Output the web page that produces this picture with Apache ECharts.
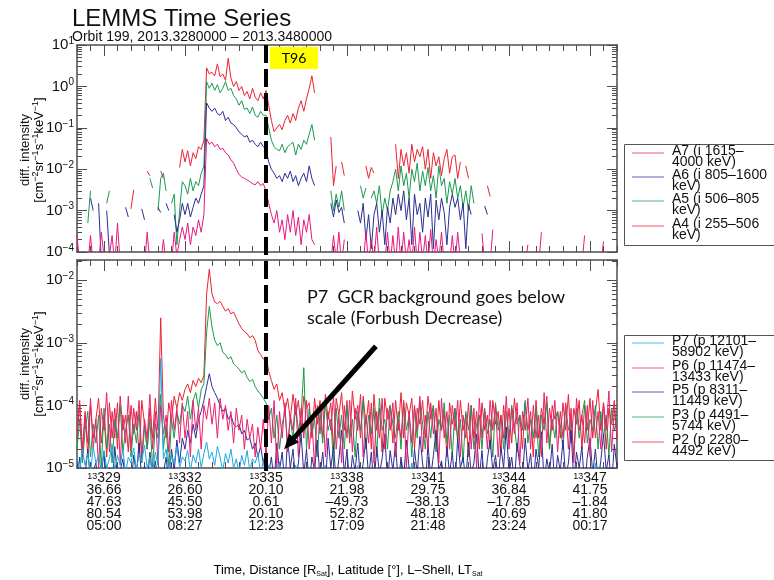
<!DOCTYPE html>
<html><head><meta charset="utf-8">
<script src="https://cdn.jsdelivr.net/npm/echarts@6/dist/echarts.min.js"></script>
<style>html,body{margin:0;padding:0;background:#fff}#c{width:774px;height:580px}</style>
</head><body><div id="c"></div>
<script>
const _ = null;
// sample times (day units of 0.001 yr, 2013.328 .. 2013.348)
const times = [
328,328.1,328.2,328.3,328.4,328.5,328.6,328.7,328.8,328.9,
329,329.1,329.2,329.3,329.4,329.5,329.6,329.7,329.8,329.9,
330,330.1,330.2,330.3,330.4,330.5,330.6,330.7,330.8,330.9,
331,331.1,331.2,331.3,331.4,331.5,331.6,331.7,331.8,331.9,
332,332.1,332.2,332.3,332.4,332.5,332.6,332.7,332.8,332.9,
333,333.1,333.2,333.3,333.4,333.5,333.6,333.7,333.8,333.9,
334,334.1,334.2,334.3,334.4,334.5,334.6,334.7,334.8,334.9,
335,335.1,335.2,335.3,335.4,335.5,335.6,335.7,335.8,335.9,
336,336.1,336.2,336.3,336.4,336.5,336.6,336.7,336.8,336.9,
337,337.1,337.2,337.3,337.4,337.5,337.6,337.7,337.8,337.9,
338,338.1,338.2,338.3,338.4,338.5,338.6,338.7,338.8,338.9,
339,339.1,339.2,339.3,339.4,339.5,339.6,339.7,339.8,339.9,
340,340.1,340.2,340.3,340.4,340.5,340.6,340.7,340.8,340.9,
341,341.1,341.2,341.3,341.4,341.5,341.6,341.7,341.8,341.9,
342,342.1,342.2,342.3,342.4,342.5,342.6,342.7,342.8,342.9,
343,343.1,343.2,343.3,343.4,343.5,343.6,343.7,343.8,343.9,
344,344.1,344.2,344.3,344.4,344.5,344.6,344.7,344.8,344.9,
345,345.1,345.2,345.3,345.4,345.5,345.6,345.7,345.8,345.9,
346,346.1,346.2,346.3,346.4,346.5,346.6,346.7,346.8,346.9,
347,347.1,347.2,347.3,347.4,347.5,347.6,347.7,347.8,347.9,
348];

// ---- top panel (ions) ----
const A4 = [
_,_,_,_,_,_,_,_,_,_,
_,_,_,_,_,_,_,_,_,_,
1.1e-3,3.2e-3,_,_,_,_,9e-3,7e-3,_,_,
_,9e-3,6e-3,_,_,_,_,_,0.011,0.03,
0.015,0.028,0.012,0.025,0.018,0.035,0.03,0.05,2.8,2.0,
2.2,1.8,3.5,1.7,2.0,1.4,4.8,1.6,1.0,1.3,
0.8,1.0,0.6,0.75,0.5,0.9,0.55,0.45,0.7,0.5,
0.8,0.35,0.15,0.08,0.1,0.12,0.09,0.15,0.2,0.13,
0.22,0.15,0.3,0.45,0.25,0.5,0.9,1.8,0.7,_,
_,_,_,_,0.06,4e-3,0.012,_,0.015,7e-3,
_,_,_,_,_,_,_,0.012,6e-3,0.011,
8e-3,_,_,_,_,_,_,_,0.04,6e-3,
0.03,0.012,0.025,8e-3,0.04,0.015,0.03,0.02,0.035,0.01,
0.03,6e-3,0.025,0.012,0.02,7e-3,0.018,0.03,8e-3,0.02,
0.022,6e-3,0.015,_,0.012,6e-3,_,_,_,_,
_,_,4e-3,2.2e-3,_,_,_,_,_,_,
_,_,_,_,_,_,_,_,_,_,
_,_,_,_,_,_,_,_,_,_,
_,_,_,_,_,_,_,_,_,_,
_,_,_,_,_,_,_,_,_,_,
_];
const A5 = [
_,_,_,_,5e-4,3e-3,_,_,_,_,
_,1.5e-3,3e-3,_,_,_,_,_,_,_,
_,_,_,_,_,_,_,6e-3,3.5e-3,_,
1e-3,6e-3,8e-3,3e-3,_,1.5e-3,2.5e-3,1.5e-4,1e-3,5e-3,
4e-3,2.5e-3,6e-3,3e-3,5e-3,4e-3,8e-3,0.012,1.3,0.9,
1.2,0.8,1.1,0.7,0.9,1.3,0.8,0.9,0.6,0.5,
0.35,0.45,0.28,0.3,0.22,0.32,0.2,0.18,0.25,0.2,
0.2,0.1,0.05,0.035,0.03,0.028,0.04,0.025,0.035,0.04,
0.045,0.022,0.04,0.03,0.05,0.04,0.07,0.12,0.05,_,
_,_,_,_,3e-3,1e-3,2.5e-3,1.2e-3,3e-3,1e-3,
_,_,_,_,_,4e-3,2e-3,3.5e-3,_,2e-3,
3e-3,1.5e-3,4e-3,8e-4,2e-3,1e-3,3e-3,5e-3,0.01,3e-3,
0.012,4e-3,8e-3,2e-3,0.01,5e-3,0.014,3e-3,9e-3,4e-3,
0.011,3e-3,7e-3,2e-3,0.012,4e-3,6e-3,1.5e-3,5e-3,2.5e-3,
6e-3,2e-3,4e-3,1.2e-3,3e-3,1e-3,4e-3,1.5e-3,_,_,
_,_,_,_,_,_,_,_,_,_,
_,_,_,_,_,_,_,_,_,_,
_,_,_,_,_,_,_,_,_,_,
_,_,_,_,_,_,_,_,_,_,
_,_,_,_,_,_,_,_,_,_,
_];
const A6 = [
_,_,_,_,_,2e-3,1e-3,_,1.5e-3,6e-5,
_,1e-3,9e-5,_,_,_,_,_,1.2e-3,7e-4,
_,_,_,_,1.1e-3,6e-4,_,_,_,_,
1.2e-3,9e-4,_,1.5e-3,1e-3,_,8e-4,3e-4,6e-4,1.5e-3,
8e-4,1.5e-3,7e-4,1.2e-3,2e-3,1.5e-3,2.5e-3,4e-3,0.4,0.3,
0.25,0.3,0.22,0.2,0.25,0.15,0.18,0.13,0.12,0.1,
0.08,0.07,0.06,0.065,0.045,0.05,0.04,0.035,0.045,0.035,
0.03,0.015,0.01,0.008,0.006,0.007,0.005,0.008,0.006,0.009,
0.005,0.007,0.004,0.006,0.008,0.005,0.012,0.006,0.004,_,
_,_,_,_,1.5e-3,7e-4,1.8e-3,9e-4,1.2e-3,5e-4,
_,_,_,_,1e-3,5e-4,1.5e-3,2e-4,8e-4,1.2e-4,
8e-4,1.5e-3,3e-4,1e-3,1.5e-4,1.2e-3,5e-4,2e-3,8e-4,2.5e-3,
1e-3,3e-3,6e-4,2e-3,1.5e-4,2.5e-3,8e-4,1.5e-3,3e-4,2e-3,
7e-4,2.5e-3,1.2e-4,1.8e-3,6e-4,2e-3,9e-4,1.5e-4,1.2e-3,2.5e-3,
1.2e-3,2e-3,6e-4,1.5e-3,1.2e-4,1.4e-3,8e-4,_,_,_,
_,1.3e-3,8e-4,_,_,_,_,_,_,_,
_,_,_,_,_,_,_,_,_,_,
_,_,_,_,_,_,_,_,_,_,
_,_,_,_,_,_,_,_,_,_,
_,_,_,_,_,_,_,_,_,_,
_];
const A7 = [
2.5e-4,5e-5,_,_,5e-5,2.5e-4,5e-5,_,5e-5,3e-4,
8e-5,_,8e-5,2.5e-4,5e-5,5e-4,5e-5,_,_,_,
_,_,_,_,_,5e-5,3e-4,5e-5,_,_,
_,5e-5,2e-4,5e-5,_,5e-5,3e-4,8e-5,2e-4,4e-4,
2e-4,5e-4,1.5e-4,4e-4,2.5e-4,6e-4,3e-4,8e-4,0.055,0.04,
0.045,0.035,0.04,0.03,0.032,0.025,0.022,0.017,0.014,0.01,
0.0075,0.0065,0.006,0.0055,0.005,0.0045,0.0042,0.005,0.004,0.0045,
0.003,1.5e-3,8e-4,5e-4,1e-3,3e-4,6e-4,2e-4,8e-4,3e-4,
1e-3,2.5e-4,7e-4,1.5e-4,6e-4,3e-4,8e-4,2e-4,1.5e-4,_,
_,_,_,_,5e-5,2.5e-4,6e-5,3e-4,5e-5,2e-4,
_,_,_,_,_,_,5e-5,3e-4,5e-5,2e-4,
6e-5,4e-4,5e-5,_,5e-5,3e-4,5e-5,2.5e-4,5e-5,4e-4,
5e-5,3e-4,6e-5,2e-4,5e-5,4e-4,5e-5,3e-4,6e-5,2.5e-4,
5e-5,3.5e-4,5e-5,2e-4,6e-5,3e-4,5e-5,_,5e-5,2.5e-4,
5e-5,3e-4,6e-5,_,_,_,_,_,_,_,
2.8e-4,5e-5,_,5e-5,3.5e-4,_,_,_,_,_,
_,_,_,_,_,_,5e-5,1.5e-4,_,_,
_,5e-5,3e-4,_,_,_,_,_,_,_,
_,_,_,_,_,_,_,5e-5,2.5e-4,_,
_,_,_,_,5e-5,1.8e-4,_,_,_,_,
_];

// ---- bottom panel (protons) ----
const P2 = [
4e-5,1.2e-4,2e-5,8e-5,1.5e-5,1e-4,3e-5,6e-5,1.3e-4,2.5e-5,
7e-5,1.5e-5,1.1e-4,3e-5,9e-5,2e-5,1.4e-4,4e-5,7e-5,1.8e-5,
1e-4,3.5e-5,8e-5,1.5e-5,1.2e-4,5e-5,2e-5,9e-5,3e-5,1.3e-4,
4e-5,2.5e-3,7e-5,3e-5,1.1e-4,6e-5,1.4e-4,9e-5,1.6e-4,1.2e-4,
1.8e-4,2.2e-4,1.6e-4,2.5e-4,2e-4,2.7e-4,2.3e-4,3e-4,6e-3,1.5e-2,
6e-3,4.5e-3,4.2e-3,4.6e-3,3.8e-3,3.2e-3,3.5e-3,2.9e-3,3.1e-3,2.5e-3,
2e-3,1.7e-3,1.5e-3,1.4e-3,1.2e-3,1.3e-3,1.1e-3,7.5e-4,6.5e-4,5.5e-4,
6e-4,3.5e-4,2.5e-4,1.8e-4,2.2e-4,1.2e-4,1.6e-4,8e-5,1.3e-4,6e-5,
1.5e-4,7e-5,1.2e-4,4e-5,1.4e-4,9e-5,1.1e-4,3e-5,1.3e-4,5e-5,
1.2e-4,3e-5,1.5e-4,6e-5,1.1e-4,2e-5,1.3e-4,7e-5,1.6e-4,4e-5,
1.2e-4,2.5e-5,1.7e-4,6e-5,1e-4,3e-5,1.4e-4,5e-5,1.2e-4,2e-5,
1.5e-4,4e-5,9e-5,1.8e-5,1.3e-4,6e-5,1e-4,2.5e-5,1.2e-4,4e-5,
1.6e-4,3e-5,1.1e-4,7e-5,1.3e-4,2e-5,9e-5,5e-5,1.2e-4,3e-5,
1.4e-4,6e-5,1e-4,2e-5,1.2e-4,4e-5,8e-5,1.5e-5,1.1e-4,5e-5,
9e-5,2.5e-5,1.2e-4,4e-5,7e-5,1.5e-5,1e-4,3e-5,8e-5,2e-5,
1.1e-4,4e-5,7e-5,2e-5,1.2e-4,5e-5,8e-5,1.8e-5,1e-4,3e-5,
9e-5,2.5e-5,1.3e-4,5e-5,7e-5,2e-5,1.1e-4,4e-5,8e-5,1.5e-5,
1.2e-4,3e-5,9e-5,5e-5,1.4e-4,2e-5,1e-4,6e-5,8e-5,3e-5,
1.1e-4,4e-5,1.5e-4,2.5e-5,9e-5,5e-5,1.2e-4,2e-5,1e-4,4e-5,
1.3e-4,3e-5,8e-5,1.8e-4,4e-5,1.1e-4,2e-5,9e-5,5e-5,1.2e-4,
3e-5];
const P3 = [
2e-5,6e-5,1.2e-5,4e-5,8e-5,1.5e-5,5e-5,2.5e-5,7e-5,1e-5,
9e-5,2e-5,5e-5,1.2e-5,6e-5,3e-5,1e-4,1.8e-5,4e-5,7e-5,
1.5e-5,5e-5,2.5e-5,8e-5,1.2e-5,4.5e-5,2e-5,6e-5,1e-5,5e-5,
3e-5,1.5e-4,2e-5,5e-5,1e-5,6e-5,3e-5,8e-5,5e-5,1e-4,
8e-5,1.4e-4,6e-5,1.2e-4,1.6e-4,9e-5,1.8e-4,2.2e-4,1.5e-3,3.8e-3,
1.8e-3,1.1e-3,9e-4,1e-3,7e-4,6.5e-4,5.5e-4,6e-4,4.6e-4,4.2e-4,
3.8e-4,3.3e-4,3.6e-4,2.8e-4,2.4e-4,2.6e-4,2e-4,1.7e-4,1.5e-4,1.3e-4,
1.1e-4,6e-5,9e-5,3e-5,7e-5,2e-5,5e-5,8e-5,2.5e-5,6e-5,
3e-5,1e-4,4e-5,7e-5,4e-4,2e-5,9e-5,3.5e-5,6e-5,1.5e-5,
8e-5,2.5e-5,1.1e-4,4e-5,6e-5,1.2e-5,9e-5,3e-5,7e-5,2e-5,
1e-4,3e-5,6e-5,1.5e-5,8e-5,4e-5,1.2e-4,2e-5,7e-5,3.5e-5,
9e-5,1.5e-5,1.3e-4,4e-5,6e-5,2e-5,1e-4,5e-5,3e-5,8e-5,
2e-5,1.1e-4,4e-5,7e-5,1.5e-5,9e-5,3e-5,1.2e-4,5e-5,2e-5,
8e-5,3e-5,1e-4,1.8e-5,6e-5,4e-5,1.1e-4,2.5e-5,7e-5,1.5e-5,
9e-5,3e-5,6e-5,1.2e-5,8e-5,4e-5,1e-4,2e-5,5e-5,7e-5,
2e-5,9e-5,3.5e-5,6e-5,1.5e-5,1.1e-4,4e-5,7e-5,2e-5,8e-5,
3e-5,1e-4,5e-5,1.8e-5,7e-5,4e-5,1.2e-4,2.5e-5,6e-5,3e-5,
9e-5,1.5e-5,7e-5,4e-5,1.1e-4,2e-5,6e-5,3e-5,8e-5,5e-5,
2e-5,1e-4,4e-5,6e-5,1.5e-5,9e-5,3e-5,7e-5,1.2e-4,2.5e-5,
6e-5,4e-5,1e-4,2e-5,8e-5,3e-5,7e-5,1.5e-5,9e-5,4e-5,
6e-5];
const P5 = [
6e-6,1.5e-5,5e-6,8e-6,2e-5,6e-6,9e-6,1.2e-5,5e-6,8e-6,
1.8e-5,6e-6,1e-5,5e-6,2.2e-5,7e-6,9e-6,1.4e-5,6e-6,1e-5,
5e-6,1.6e-5,8e-6,2.5e-5,6e-6,1.1e-5,5e-6,1.8e-5,7e-6,1.3e-5,
6e-6,1e-5,8e-6,1.5e-5,6e-6,2e-5,9e-6,2.8e-5,1.2e-5,3e-5,
2e-5,4e-5,2.5e-5,5e-5,3e-5,6e-5,8e-5,1.2e-4,2e-4,3.2e-4,
2e-4,1.6e-4,1.3e-4,1e-4,8e-5,9e-5,6e-5,7e-5,5e-5,4.5e-5,
5e-5,3.5e-5,4e-5,2.8e-5,3e-5,2e-5,2.5e-5,1.5e-5,2.2e-5,1.2e-5,
2e-5,8e-6,1.5e-5,6e-6,2.5e-5,9e-6,1.8e-5,5e-6,3e-5,1e-5,
2e-5,6e-6,1.2e-5,3.5e-5,8e-6,2e-5,5e-6,1.5e-5,9e-6,2.8e-5,
7e-6,1.8e-5,5e-6,3e-5,1e-5,2.2e-5,6e-6,1.4e-5,4e-5,8e-6,
2e-5,5e-6,1.6e-5,9e-6,2.5e-5,6e-6,1.2e-5,3e-5,7e-6,1.8e-5,
5e-6,2.2e-5,8e-6,1.4e-5,3.5e-5,6e-6,1.9e-5,9e-6,2.6e-5,5e-6,
1.5e-5,7e-6,2.8e-5,1e-5,6e-6,2e-5,8e-6,3.2e-5,1.2e-5,5e-6,
2.4e-5,7e-6,1.6e-5,4e-5,9e-6,1.3e-5,6e-6,2.2e-5,8e-6,1.8e-5,
5e-6,3e-5,1e-5,1.5e-5,6e-6,2.6e-5,8e-6,1.2e-5,3.5e-5,7e-6,
1.9e-5,5e-6,1.4e-5,2.8e-5,9e-6,1.6e-5,6e-6,2.2e-5,1e-5,4.5e-5,
8e-6,1.5e-5,6e-6,2.5e-5,1.1e-5,7e-6,3e-5,9e-6,1.7e-5,5e-6,
2e-5,1e-5,3.8e-5,6e-6,1.4e-5,8e-6,2.4e-5,5e-6,1.6e-5,9e-6,
2.8e-5,7e-6,1.2e-5,4e-5,6e-6,1.8e-5,1e-5,2.2e-5,5e-6,1.5e-5,
3e-5,8e-6,2e-5,6e-6,1.3e-5,3.5e-5,9e-6,1.6e-5,5e-6,2.4e-5,
1e-5];
const P6 = [
3e-5,1e-4,1.5e-5,7e-5,2.5e-5,1.3e-4,2e-5,6e-5,1e-5,9e-5,
4e-5,1.6e-4,1.8e-5,8e-5,3e-5,1.1e-4,1.2e-5,7e-5,2.5e-5,1.4e-4,
2e-5,9e-5,4e-5,1.2e-4,1.5e-5,6e-5,3e-5,1.5e-4,2e-5,8e-5,
1.2e-5,1e-4,3.5e-5,7e-5,1.8e-5,1.2e-4,4e-5,9e-5,2.5e-5,1.1e-4,
3e-5,8e-5,1.5e-5,1.2e-4,4e-5,9e-5,2e-5,1e-4,6e-5,1.3e-4,
5e-5,1.1e-4,3e-5,1.3e-4,6e-5,1e-4,4e-5,8e-5,2.5e-5,9e-5,
4e-5,7e-5,2e-5,6e-5,3e-5,5e-5,1.5e-5,4.5e-5,2e-5,6e-5,
1.5e-5,1e-4,2.5e-5,1.2e-4,1e-5,8e-5,3e-5,1.1e-4,1.8e-5,7e-5,
4e-5,1.3e-4,1.5e-5,9e-5,3e-5,1.2e-4,2e-5,6e-5,1e-5,1e-4,
3.5e-5,1.1e-4,1.5e-5,8e-5,4e-5,1.4e-4,2e-5,7e-5,1.2e-5,1e-4,
3e-5,1.2e-4,1.8e-5,9e-5,4e-5,1.5e-4,1.5e-5,7e-5,2.5e-5,1.1e-4,
1.2e-5,8e-5,3e-5,1.3e-4,2e-5,9e-5,4e-5,1.1e-4,1.5e-5,6e-5,
3e-5,1.2e-4,1e-5,8e-5,2.5e-5,1e-4,4e-5,1.4e-4,1.8e-5,7e-5,
2e-5,1.1e-4,3.5e-5,9e-5,1.2e-5,1.3e-4,3e-5,8e-5,2e-5,1e-4,
4e-5,1.2e-4,1.5e-5,7e-5,3e-5,1.1e-4,2e-5,9e-5,1e-5,1.3e-4,
3e-5,8e-5,2e-5,1.2e-4,4e-5,1e-4,1.5e-5,7e-5,3e-5,1.4e-4,
2e-5,9e-5,3.5e-5,1.1e-4,1.2e-5,8e-5,4e-5,1.3e-4,2e-5,1e-4,
3e-5,7e-5,1.5e-5,1.6e-4,2.5e-5,9e-5,4e-5,1.2e-4,1.8e-5,8e-5,
3e-5,1.1e-4,2e-5,9e-5,1.2e-5,1.3e-4,4e-5,7e-5,2.5e-5,1e-4,
1.5e-5,1.2e-4,3e-5,8e-5,2e-5,1.1e-4,4e-5,1.7e-4,1.8e-5,9e-5,
3e-5];
const P7 = [
1.5e-5,9e-6,2e-5,1.1e-5,1.7e-5,8e-6,2.2e-5,1.2e-5,1.6e-5,9e-6,
1.9e-5,1e-5,1.4e-5,2.4e-5,9e-6,1.6e-5,1.1e-5,2e-5,8e-6,1.5e-5,
1.2e-5,2.1e-5,9e-6,1.7e-5,1.3e-5,2.3e-5,1e-5,1.5e-5,8e-6,1.8e-5,
1.1e-5,5.6e-4,1.4e-5,2e-5,9e-6,1.6e-5,1.2e-5,2.2e-5,1e-5,1.5e-5,
1.3e-5,1.9e-5,9e-6,1.6e-5,1.2e-5,2e-5,1e-5,1.7e-5,2.6e-5,1.4e-5,
1.8e-5,1.1e-5,2.2e-5,1.5e-5,9e-6,1.7e-5,1.2e-5,2e-5,1e-5,1.4e-5,
8e-6,1.6e-5,1.1e-5,1.9e-5,9e-6,1.4e-5,1.2e-5,1.7e-5,8e-6,1.3e-5,
6e-6,1.1e-5,5e-6,8e-6,4e-6,1.2e-5,5e-6,7e-6,4e-6,6e-6,
4e-6,1.1e-5,5e-6,3e-6,6e-6,4e-6,1e-5,5e-6,3e-6,4e-6,
5e-6,4e-6,1.1e-5,4e-6,5e-6,3e-6,4e-6,5e-6,4e-6,3e-6,
4e-6,5e-6,3e-6,4e-6,1.1e-5,4e-6,5e-6,3e-6,4e-6,5e-6,
3e-6,4e-6,5e-6,4e-6,3e-6,4e-6,5e-6,3e-6,4e-6,5e-6,
4e-6,3e-6,4e-6,5e-6,1.2e-5,4e-6,3e-6,4e-6,5e-6,4e-6,
3e-6,4e-6,5e-6,4e-6,3e-6,4e-6,5e-6,3e-6,4e-6,5e-6,
4e-6,3e-6,4e-6,5e-6,4e-6,3e-6,4e-6,5e-6,3e-6,4e-6,
5e-6,4e-6,3e-6,4e-6,5e-6,4e-6,3e-6,4e-6,5e-6,3e-6,
4e-6,5e-6,4e-6,3e-6,4e-6,5e-6,3e-6,4e-6,5e-6,4e-6,
3e-6,4e-6,5e-6,4e-6,3e-6,4e-6,5e-6,3e-6,4e-6,5e-6,
4e-6,3e-6,4e-6,5e-6,4e-6,3e-6,4e-6,5e-6,4e-6,3e-6,
4e-6,5e-6,1.2e-5,4e-6,3e-6,4e-6,5e-6,3e-6,4e-6,5e-6,
4e-6];

// axis tick labels
const tickDays = [329, 332, 335, 338, 341, 344, 347];
const tickYear = '13';
const tickDist = ['36.66', '26.60', '20.10', '21.98', '29.75', '36.84', '41.75'];
const tickLat = ['47.63', '45.50', '0.61', '–49.73', '–38.13', '–17.85', '–1.84'];
const tickLShell = ['80.54', '53.98', '20.10', '52.82', '48.18', '40.69', '41.80'];
const tickLT = ['05:00', '08:27', '12:23', '17:09', '21:48', '23:24', '00:17'];
const topDecades = [1, 0, -1, -2, -3, -4];
const botDecades = [-2, -3, -4, -5];

const topNames = ['A7 (i 1615–\n4000 keV)', 'A6 (i 805–1600\nkeV)', 'A5 (i 506–805\nkeV)', 'A4 (i 255–506\nkeV)'];
const botNames = ['P7 (p 12101–\n58902 keV)', 'P6 (p 11474–\n13433 keV)', 'P5 (p 8311–\n11449 keV)', 'P3 (p 4491–\n5744 keV)', 'P2 (p 2280–\n4492 keV)'];
const t96Day = 335;

// ---- styling ----
const FONT = '"Liberation Sans", Arial, Helvetica, sans-serif';
const FRAME = '#4d4d4d';
const topColors = ['#e6197f', '#2b2f8f', '#1a9a50', '#ee2233'];   // A7, A6, A5, A4
const botColors = ['#1ea7e1', '#e8206e', '#2d2d95', '#1a9a4a', '#ee2030']; // P7,P6,P5,P3,P2
const topMin = 1e-4, topMax = 10, botMin = 1e-5, botMax = 0.021;
const xMin = 328, xMax = 348;

const chart = echarts.init(document.getElementById('c'), null, {renderer: 'canvas'});

function minorLog(lo, hi) {
  const out = [];
  for (let e = Math.floor(lo); e < hi; e++)
    for (let k = 2; k <= 9; k++) { const v = e + Math.log10(k); if (v > lo && v < hi) out.push(v); }
  return out;
}
function decadeLabel(decades) {
  return function (v) {
    const lv = Math.log10(v), e = Math.round(lv);
    if (Math.abs(lv - e) > 1e-3 || decades.indexOf(e) < 0) return '';
    return '{b|10}{s|' + (e < 0 ? '\u2212' + (-e) : String(e)) + '}';
  };
}
const yRich = {
  b: {fontSize: 15, fontFamily: FONT, color: '#111', lineHeight: 18},
  s: {fontSize: 10, fontFamily: FONT, color: '#111', lineHeight: 10, verticalAlign: 'top'}
};
function xLabelFmt(v) {
  let k = -1;
  for (let i = 0; i < tickDays.length; i++) if (Math.abs(tickDays[i] - v) < 1e-6) k = i;
  if (k < 0) return '';
  return '{s|' + tickYear + '}{n|' + tickDays[k] + '}\n{n|' + tickDist[k] + '}\n{n|' + tickLat[k] +
    '}\n{n|' + tickLShell[k] + '}\n{n|' + tickLT[k] + '}';
}
function xAxes(grid, withLabels) {
  const common = {gridIndex: grid, type: 'value', min: xMin, max: xMax, splitLine: {show: false}};
  const line = {show: true, onZero: false, lineStyle: {color: FRAME, width: 1.5}};
  const noLine = {show: false, onZero: false};
  const minorT = {inside: true, length: 6, lineStyle: {color: FRAME, width: 1}};
  const majorT = {inside: true, length: 11, customValues: tickDays, lineStyle: {color: FRAME, width: 1}};
  return [
    Object.assign({}, common, {position: 'bottom', interval: 0.5, axisLine: line, axisTick: minorT, axisLabel: {show: false}}),
    Object.assign({}, common, {position: 'top', interval: 0.5, axisLine: line, axisTick: minorT, axisLabel: {show: false}}),
    Object.assign({}, common, {position: 'bottom', axisLine: noLine, axisTick: majorT,
      axisLabel: withLabels ? {show: true, customValues: tickDays, formatter: xLabelFmt, margin: 4,
        rich: {n: {fontSize: 14, fontFamily: FONT, color: '#111', lineHeight: 12, align: 'center'},
               s: {fontSize: 9, fontFamily: FONT, color: '#111', lineHeight: 9, verticalAlign: 'top'}}} : {show: false}}),
    Object.assign({}, common, {position: 'top', axisLine: noLine, axisTick: majorT, axisLabel: {show: false}})
  ];
}
function yAxes(grid, min, max, decades) {
  const line = {show: true, onZero: false, lineStyle: {color: FRAME, width: 1.5}};
  const base = {gridIndex: grid, type: 'log', logBase: 10, min: min, max: max, splitLine: {show: false},
    axisLine: line, axisTick: {inside: true, length: 10, lineStyle: {color: FRAME}}};
  const lmin = Math.log10(min), lmax = Math.log10(max);
  const minor = minorLog(lmin, lmax);
  const aux = {gridIndex: grid, type: 'value', min: lmin, max: lmax, splitLine: {show: false},
    axisLine: {show: false, onZero: false}, axisLabel: {show: false},
    axisTick: {inside: true, length: 5, customValues: minor, lineStyle: {color: FRAME}}};
  return [
    Object.assign({}, base, {position: 'left', axisLabel: {show: true, margin: 3, formatter: decadeLabel(decades), rich: yRich}}),
    Object.assign({}, base, {position: 'right', axisLabel: {show: false}}),
    Object.assign({}, aux, {position: 'left'}),
    Object.assign({}, aux, {position: 'right'})
  ];
}
function mk(name, vals, color, ax) {
  return {
    name: name, type: 'line', xAxisIndex: ax, yAxisIndex: ax,
    data: times.map((t, i) => [t, vals[i] == null ? '-' : vals[i]]),
    showSymbol: false, symbol: 'none', connectNulls: false, clip: true, silent: true,
    lineStyle: {width: 1, color: color}, itemStyle: {color: color}, z: 2
  };
}

const option = {
  animation: false,
  backgroundColor: '#fff',
  grid: [
    {left: 77, top: 45, width: 540, height: 207, containLabel: false},
    {left: 77, top: 260, width: 540, height: 208, containLabel: false}
  ],
  xAxis: xAxes(0, false).concat(xAxes(1, true)),
  yAxis: yAxes(0, topMin, topMax, topDecades).concat(yAxes(1, botMin, botMax, botDecades)),
  series: [
    mk('A4', A4, topColors[3], 0),
    mk('A5', A5, topColors[2], 0),
    mk('A6', A6, topColors[1], 0),
    mk('A7', A7, topColors[0], 0),
    mk('P2', P2, botColors[4], 4),
    mk('P3', P3, botColors[3], 4),
    mk('P5', P5, botColors[2], 4),
    mk('P6', P6, botColors[1], 4),
    mk('P7', P7, botColors[0], 4)
  ]
};
chart.setOption(option);

// ---- annotations & legends ----
const g = [];
g.push({type: 'text', x: 72, y: 7, style: {text: 'LEMMS Time Series', font: '24px ' + FONT, fill: '#111', align: 'left', verticalAlign: 'top', textAlign: 'left', textVerticalAlign: 'top'}});
g.push({type: 'text', x: 72, y: 30, style: {text: 'Orbit 199, 2013.3280000 \u2013 2013.3480000', font: '14px ' + FONT, fill: '#111', align: 'left', verticalAlign: 'top', textAlign: 'left', textVerticalAlign: 'top'}});

// y axis titles
[[150], [364]].forEach(function (p) {
  g.push({type: 'text', x: 25, y: p[0], rotation: Math.PI / 2,
    style: {text: 'diff. intensity', font: '13px ' + FONT, fill: '#111', align: 'center', verticalAlign: 'middle', textAlign: 'center', textVerticalAlign: 'middle'}});
  g.push({type: 'text', x: 39, y: p[0], rotation: Math.PI / 2,
    style: {text: '{t|[cm}{s|\u22122}{t|sr}{s|\u22121}{t|s}{s|\u22121}{t|keV}{s|\u22121}{t|]}', align: 'center', verticalAlign: 'middle', textAlign: 'center', textVerticalAlign: 'middle',
      rich: {t: {fontSize: 13, fontFamily: FONT, color: '#111', lineHeight: 15}, s: {fontSize: 9, fontFamily: FONT, color: '#111', lineHeight: 9, verticalAlign: 'top'}}}});
});
// x axis title
g.push({type: 'text', x: 348, y: 570, style: {
  text: '{t|Time, Distance [R}{u|Sat}{t|], Latitude [\u00b0], L\u2013Shell, LT}{u|Sat}',
  align: 'center', verticalAlign: 'middle', textAlign: 'center', textVerticalAlign: 'middle',
  rich: {t: {fontSize: 13, fontFamily: FONT, color: '#111', lineHeight: 16}, u: {fontSize: 7, fontFamily: FONT, color: '#111', lineHeight: 9, verticalAlign: 'bottom'}}}});

// dashed T96 line
const xLine = chart.convertToPixel({xAxisIndex: 0}, t96Day);
g.push({type: 'line', z: 50, shape: {x1: xLine, y1: 45, x2: xLine, y2: 476}, style: {stroke: '#000', lineWidth: 4, lineDash: [18, 6]}});
g.push({type: 'rect', z: 50, shape: {x: xLine + 4, y: 47, width: 48, height: 22}, style: {fill: '#ffff00'}});
g.push({type: 'text', z: 51, x: xLine + 28, y: 58, style: {text: 'T96', font: '14px Lato, ' + FONT, fill: '#000', align: 'center', verticalAlign: 'middle', textAlign: 'center', textVerticalAlign: 'middle'}});

// annotation + arrow
g.push({type: 'text', z: 50, x: 307, y: 287, style: {text: 'P7  GCR background goes below\nscale (Forbush Decrease)', font: '18px Lato, ' + FONT, lineHeight: 21, fill: '#111', align: 'left', verticalAlign: 'top', textAlign: 'left', textVerticalAlign: 'top'}});
const tail = chart.convertToPixel({xAxisIndex: 4, yAxisIndex: 4}, [339.07, 8.8e-4]);
const tip = chart.convertToPixel({xAxisIndex: 4, yAxisIndex: 4}, [335.67, 2e-5]);
(function () {
  const dx = tip[0] - tail[0], dy = tip[1] - tail[1], L = Math.hypot(dx, dy);
  const ux = dx / L, uy = dy / L, nx = -uy, ny = ux, AL = 15, AW = 13;
  const bx = tip[0] - ux * AL, by = tip[1] - uy * AL;
  g.push({type: 'line', z: 50, shape: {x1: tail[0], y1: tail[1], x2: bx + ux * 3, y2: by + uy * 3}, style: {stroke: '#000', lineWidth: 5}});
  g.push({type: 'polygon', z: 50, shape: {points: [[tip[0], tip[1]], [bx + nx * AW / 2, by + ny * AW / 2], [bx - nx * AW / 2, by - ny * AW / 2]]}, style: {fill: '#000'}});
})();

// legends
function legend(top, h, names, colors, rowYs) {
  g.push({type: 'rect', z: 40, shape: {x: 624.5, y: top + 0.5, width: 170, height: h}, style: {fill: '#fff', stroke: '#555', lineWidth: 1}});
  names.forEach(function (nm, i) {
    const y = rowYs[i];
    g.push({type: 'line', z: 41, shape: {x1: 632, y1: y, x2: 664, y2: y}, style: {stroke: colors[i], lineWidth: 1, opacity: 0.75}});
    g.push({type: 'text', z: 41, x: 672, y: y - 7, style: {text: nm, font: '14px ' + FONT, lineHeight: 11, fill: '#111', align: 'left', verticalAlign: 'top', textAlign: 'left', textVerticalAlign: 'top'}});
  });
}
legend(144, 101, topNames, topColors, [153, 177, 201, 226]);
legend(335, 125, botNames, botColors, [343, 368, 392, 417, 442]);

chart.setOption({graphic: {elements: g}});
</script></body></html>
